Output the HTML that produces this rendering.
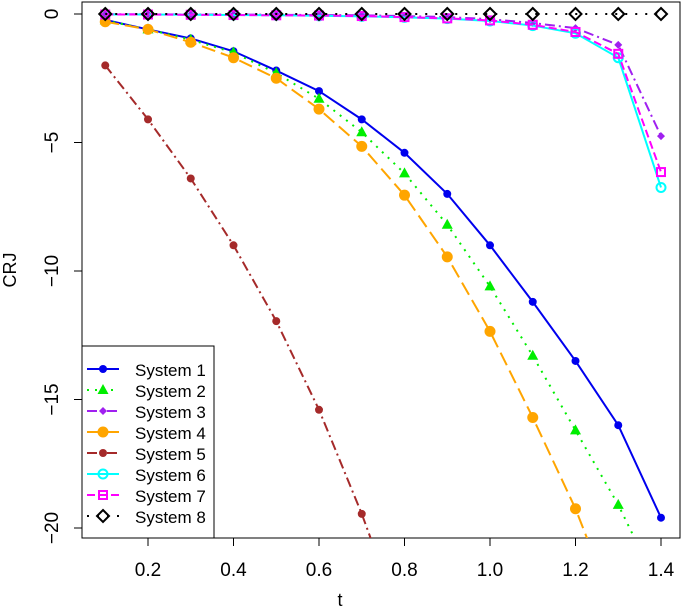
<!DOCTYPE html>
<html><head><meta charset="utf-8"><style>
html,body{margin:0;padding:0;background:#fff;overflow:hidden;width:685px;height:614px}
svg{font-family:"Liberation Sans",sans-serif;display:block}
</style></head><body>
<svg id="chart" width="685" height="614">
<defs><clipPath id="clip"><rect x="82" y="2" width="598" height="536"/></clipPath></defs>
<rect x="82" y="2" width="598" height="536" fill="none" stroke="#000"/>
<g id="axes"></g>
<g id="series" clip-path="url(#clip)"></g>
<text x="16" y="270" transform="rotate(-90 16 270)" text-anchor="middle" font-size="18">CRJ</text>
<text x="340" y="606" text-anchor="middle" font-size="18">t</text>
<g id="legend"></g>
</svg>
<script>
const ts=[0.1,0.2,0.3,0.4,0.5,0.6,0.7,0.8,0.9,1.0,1.1,1.2,1.3,1.4];
const s1=[-0.23,-0.6,-0.95,-1.45,-2.2,-3.0,-4.1,-5.4,-7.0,-9.0,-11.2,-13.5,-16.0,-19.6];
const s2=[-0.25,-0.6,-1.0,-1.5,-2.3,-3.3,-4.6,-6.2,-8.2,-10.6,-13.3,-16.2,-19.1,-22.5];
const s3=[-0.01,-0.01,-0.02,-0.02,-0.03,-0.04,-0.05,-0.08,-0.12,-0.2,-0.35,-0.55,-1.2,-4.75];
const s4=[-0.3,-0.6,-1.1,-1.7,-2.5,-3.7,-5.15,-7.05,-9.45,-12.35,-15.7,-19.25,-23.5,-28];
const s5=[-2.0,-4.1,-6.4,-9.0,-11.95,-15.4,-19.45,-24,-29,-34,-40,-46,-52,-58];
const s6=[-0.02,-0.02,-0.03,-0.04,-0.05,-0.07,-0.09,-0.13,-0.18,-0.27,-0.45,-0.75,-1.7,-6.75];
const s7=[-0.02,-0.02,-0.03,-0.04,-0.05,-0.06,-0.08,-0.12,-0.17,-0.25,-0.42,-0.7,-1.55,-6.15];
const s8=[0,0,0,0,0,0,0,0,0,0,0,0,0,0];
const xTicks=[0.2,0.4,0.6,0.8,1.0,1.2,1.4];
const xTickLabels=["0.2","0.4","0.6","0.8","1.0","1.2","1.4"];
const yTicks=[0,-5,-10,-15,-20];
const yTickLabels=["0","−5","−10","−15","−20"];
const names=["System 1","System 2","System 3","System 4","System 5","System 6","System 7","System 8"];
const X=v=>148+(v-0.2)*427.5, Y=v=>14-v*25.7;
const NS="http://www.w3.org/2000/svg";
function mk(t,a,p){const e=document.createElementNS(NS,t);for(const k in a)e.setAttribute(k,a[k]);p.appendChild(e);return e;}
const ax=document.getElementById('axes');
xTicks.forEach((v,i)=>{const l=mk('line',{x1:X(v),x2:X(v),y1:538,y2:546,stroke:'#000'},ax);

const t=mk('text',{x:X(v),y:576,'text-anchor':'middle','font-size':'19'},ax);t.textContent=xTickLabels[i];
});
yTicks.forEach((v,i)=>{const l=mk('line',{x1:74,x2:82,y1:Y(v),y2:Y(v),stroke:'#000'},ax);

const t=mk('text',{x:58,y:Y(v),'text-anchor':'middle','font-size':'19',transform:`rotate(-90 58 ${Y(v)})`},ax);t.textContent=yTickLabels[i];
});
const data=[s1,s2,s3,s4,s5,s6,s7,s8];
const cols=['#0000ee','#00ee00','#a020f0','#ffa500','#a52a2a','#00ffff','#ff00ff','#000000'];
const dash=['', '2,6','10,4,2,4','14,6','10,4,2,4','', '8,4','2,8'];
const marks=['dot','tri','dia','bigdot','dot','ocircle','square','odia'];
function marker(g,type,x,y,c){let e;
if(type==='dot')e=mk('circle',{cx:x,cy:y,r:4,fill:c},g);
else if(type==='bigdot')e=mk('circle',{cx:x,cy:y,r:5.5,fill:c},g);
else if(type==='tri')e=mk('polygon',{points:`${x},${y-6} ${x-5.5},${y+4} ${x+5.5},${y+4}`,fill:c},g);
else if(type==='dia')e=mk('polygon',{points:`${x},${y-4} ${x+4},${y} ${x},${y+4} ${x-4},${y}`,fill:c},g);
else if(type==='ocircle')e=mk('circle',{cx:x,cy:y,r:4.5,fill:'none',stroke:c,'stroke-width':2},g);
else if(type==='square')e=mk('rect',{x:x-4,y:y-4,width:8,height:8,fill:'none',stroke:c,'stroke-width':2},g);
else e=mk('polygon',{points:`${x},${y-6} ${x+6},${y} ${x},${y+6} ${x-6},${y}`,fill:'none',stroke:c,'stroke-width':2},g);
}
const sg=document.getElementById('series');
const order=[4,0,1,3,2,5,6,7];
order.forEach(si=>{const g=mk('g',{},sg);

const pts=data[si].map((v,i)=>X(ts[i])+','+Y(v)).join(' ');
const pl=mk('polyline',{points:pts,fill:'none',stroke:cols[si],'stroke-width':2,'stroke-dasharray':dash[si]},g);

data[si].forEach((v,i)=>marker(g,marks[si],X(ts[i]),Y(v),cols[si]));});
const lg=document.getElementById('legend');
const r=mk('rect',{x:82,y:346,width:132,height:192,fill:'#fff',stroke:'#000'},lg);

names.forEach((n,i)=>{const y=369+i*21;const g=mk('g',{},lg);

mk('line',{x1:87,x2:119,y1:y,y2:y,stroke:cols[i],'stroke-width':2,'stroke-dasharray':dash[i]},g);
marker(g,marks[i],103,y,cols[i]);
const t=mk('text',{x:135,y:y+7,'font-size':'17'},g);t.textContent=n;
});
</script>
</body></html>
